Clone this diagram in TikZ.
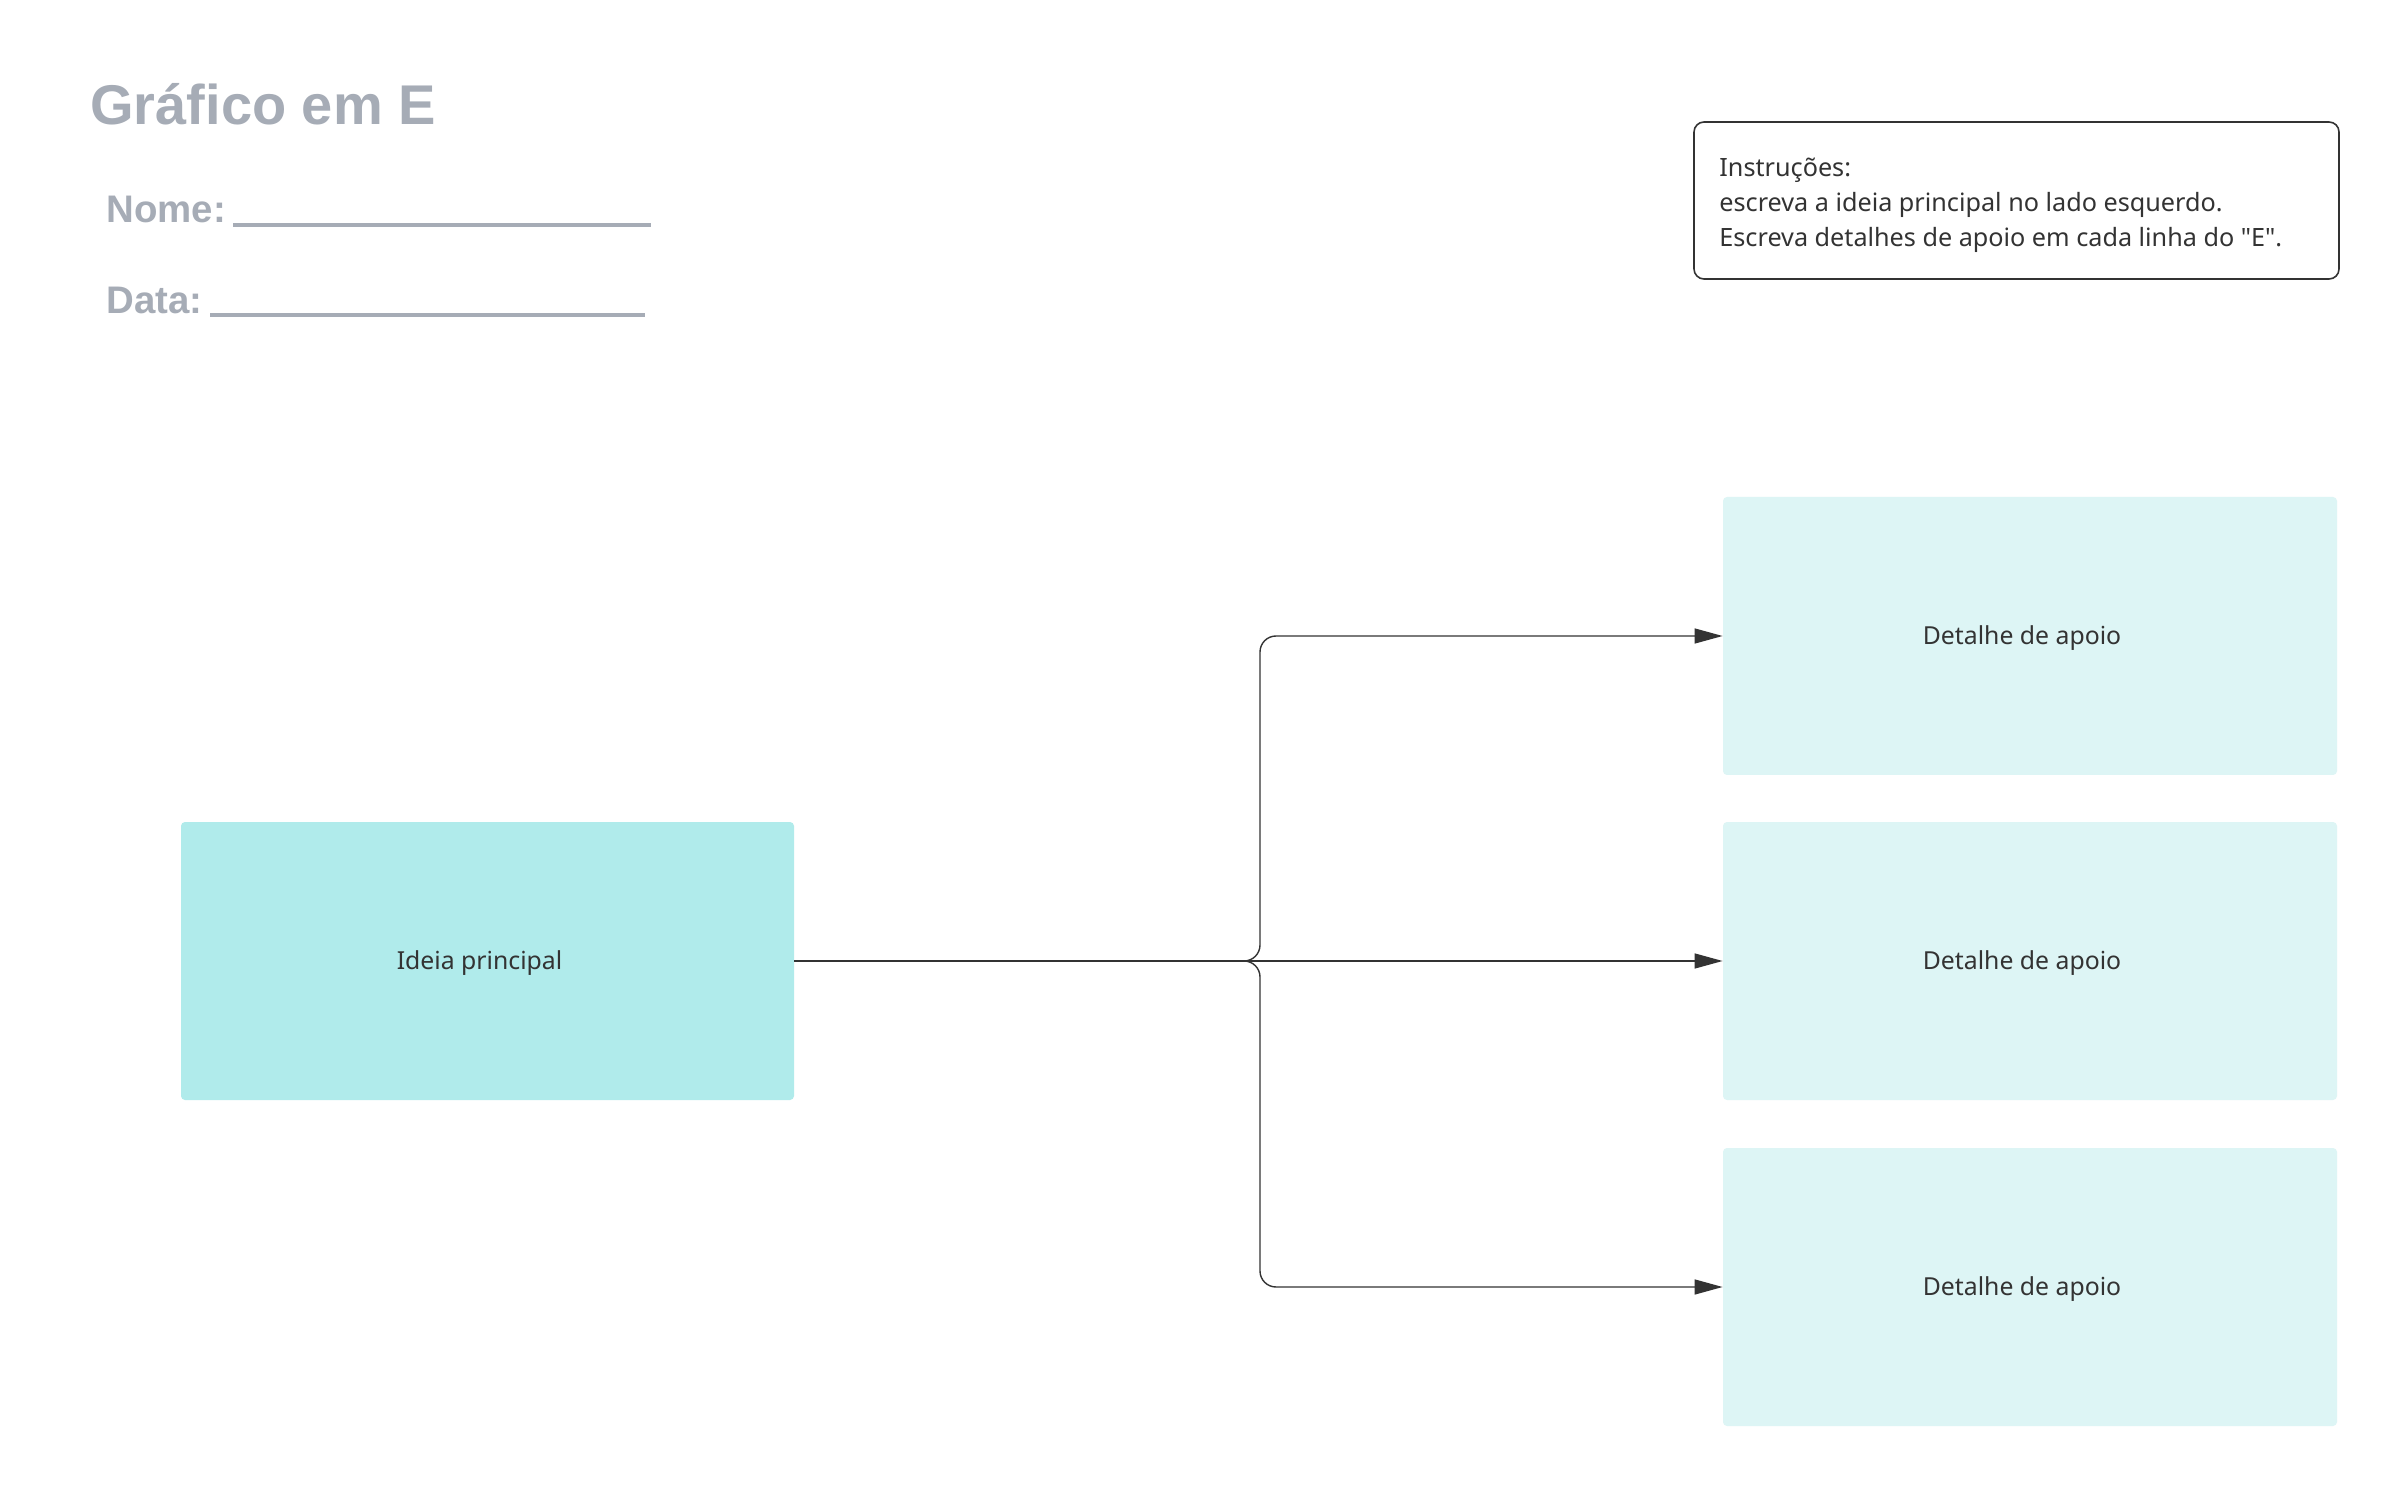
\documentclass[tikz,border=0pt]{standalone}
\usepackage{fontspec}
\setmainfont{Noto Sans}[Ligatures=TeXOff]
\newfontfamily\titlefont{Liberation Sans}
\usetikzlibrary{arrows.meta}
\definecolor{maincol}{HTML}{B0EBEB}
\definecolor{detcol}{HTML}{DDF5F5}
\definecolor{greytxt}{HTML}{A6ACB6}
\definecolor{ink}{HTML}{333333}
\tikzset{
  boxtext/.style={text=ink, font=\fontsize{12.4}{14}\selectfont},
  mainbox/.style={fill=maincol, draw=none, rounded corners=2pt, minimum width=306.5pt, minimum height=139pt, inner sep=0pt},
  detbox/.style={fill=detcol, draw=none, rounded corners=2pt, minimum width=307pt, minimum height=139pt, inner sep=0pt},
  conn/.style={draw=ink, line width=0.7pt, -{Triangle[length=14pt,width=7.5pt]}},
  headtxt/.style={text=greytxt, font=\titlefont\bfseries\fontsize{19.2}{21}\selectfont, inner sep=0pt, anchor=base west},
  uline/.style={draw=greytxt, line width=2pt}
}
\begin{document}
\begin{tikzpicture}[x=0.5pt,y=-0.5pt]
\useasboundingbox[fill=white] (0,0) rectangle (2400,1486);
% title
\node[headtxt, font=\titlefont\bfseries\fontsize{28}{30}\selectfont] (title) at (90,125) {Gráfico em E};
\node[headtxt] (nome) at (106,223) {Nome:};
\draw[uline] (233,225) -- (651,225);
\node[headtxt] (data) at (106,314) {Data:};
\draw[uline] (210,315) -- (645,315);
% instructions
\node[draw=ink, line width=0.8pt, rounded corners=5pt, fill=white, minimum width=322.5pt, minimum height=78.5pt, inner sep=0pt] (instr) at (2016.5,200.5) {};
\node[anchor=west, align=left, text=ink, inner sep=0pt, font=\fontsize{12.6}{17.5}\selectfont] (instrtxt) at (1719,205) {Instruções:\\escreva a ideia principal no lado esquerdo.\\Escreva detalhes de apoio em cada linha do "E".};
% boxes
\node[mainbox, label={[boxtext, xshift=-4pt, yshift=-1pt]center:Ideia principal}] (main) at (487.5,961) {};
\node[detbox, label={[boxtext, xshift=-4pt, yshift=-1pt]center:Detalhe de apoio}] (d1) at (2030,636) {};
\node[detbox, label={[boxtext, xshift=-4pt, yshift=-1pt]center:Detalhe de apoio}] (d2) at (2030,961) {};
\node[detbox, label={[boxtext, xshift=-4pt, yshift=-1pt]center:Detalhe de apoio}] (d3) at (2030,1287) {};
% connectors
\coordinate (j) at (1260,961);
\draw[conn, rounded corners=8pt] (main.east) -- (j) |- (d1.west);
\draw[conn, rounded corners=8pt] (main.east) -- (j) |- (d3.west);
\draw[conn] (main.east) -- (d2.west);
\end{tikzpicture}
\end{document}
